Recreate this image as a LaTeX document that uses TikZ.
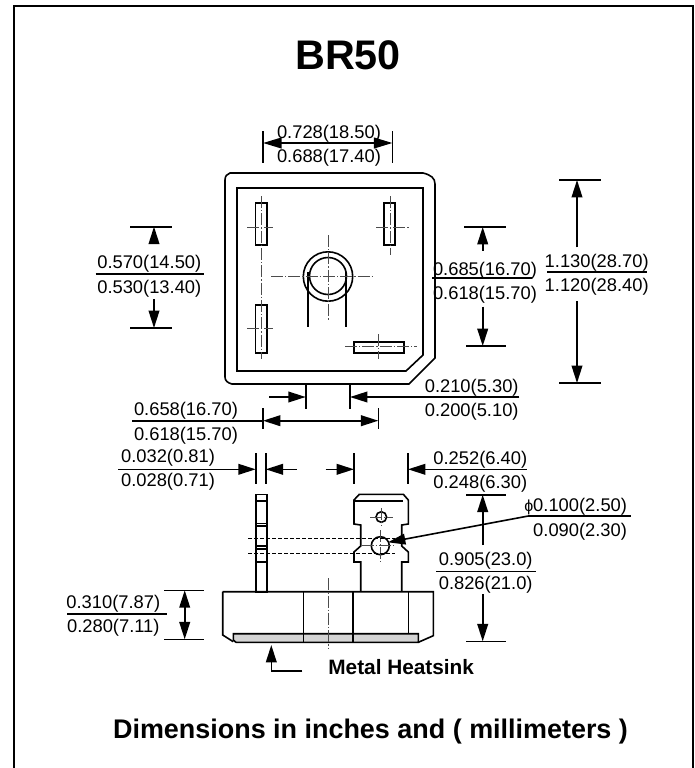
\documentclass[tikz,border=0pt]{standalone}
\usepackage{fontspec}
\setmainfont{Liberation Sans}
\usetikzlibrary{arrows.meta}
\tikzset{
  x=0.75pt,y=-0.75pt,
  lbl/.style={inner sep=0pt,outer sep=0pt,font=\fontsize{13.75}{16}\selectfont,anchor=center,yshift=-1.3pt},
  ttl/.style={inner sep=0pt,font=\bfseries\fontsize{31}{36}\selectfont},
  captxt/.style={inner sep=0pt,anchor=base,font=\bfseries\fontsize{20.2}{24}\selectfont},
  subtxt/.style={inner sep=0pt,anchor=base,font=\bfseries\fontsize{15.6}{18}\selectfont},
  ln/.style={line width=1.2pt,black},
  obj/.style={line width=1.2pt,black,line join=miter},
  lead/.style={ln,-{Triangle[length=13pt,width=8pt]}},
  leadb/.style={ln,{Triangle[length=13pt,width=8pt]}-{Triangle[length=13pt,width=8pt]}},
  ctr/.style={line width=0.5pt,black!70,dash pattern=on 9pt off 1.5pt on 1pt off 1.5pt},
  hid/.style={line width=0.6pt,black,dash pattern=on 3pt off 1.5pt},
}
\begin{document}
\begin{tikzpicture}
\useasboundingbox (0,0) rectangle (694,768);
% frame (open at the bottom)
\draw[line width=1.5pt] (14,768) -- (14,6) -- (693,6) -- (693,768);
\node[ttl] (title) at (348,55) {BR50};

% ---- top view ----
\draw[obj] (230,173) -- (423,173) .. controls (431,175) and (435,178) .. (435,184) -- (435,358) -- (409,384) -- (232,384) .. controls (228,383) and (225,381) .. (225,377) -- (225,180) .. controls (225,176) and (227,174) .. (230,173) -- cycle;
\draw[obj] (237,188) -- (423,188) -- (423,355) -- (406,371) -- (237,371) -- cycle;
\draw[obj] (255.5,203) rectangle (266.7,245);
\draw[obj] (255.5,305) rectangle (266.7,353);
\draw[obj] (383.7,203) rectangle (395,245);
\draw[obj] (353.7,342) rectangle (403.7,353);
\draw[obj] (328,276.5) circle (24.7);
\draw[obj] (328,276) circle (18.5);
\draw[obj] (308,272) -- (308,327);
\draw[obj] (345.7,272) -- (345.7,327);
% centre lines
\draw[ctr] (261.5,196) -- (261.5,359);
\draw[ctr] (247,227) -- (273,227);
\draw[ctr] (247,328) -- (273,328);
\draw[ctr] (390.5,196) -- (390.5,255);
\draw[ctr] (376,227) -- (409,227);
\draw[ctr] (378,334) -- (378,359);
\draw[ctr] (345,346) -- (417,346);
\draw[ctr] (271,276) -- (374,276);
\draw[ctr] (328,235) -- (328,321);

% dimension 0.728 / 0.688
\coordinate (a1) at (263,143); \coordinate (a2) at (392.5,143);
\draw[ln] (263,131) -- (263,163);
\draw[ln] (392.5,131) -- (392.5,163);
\draw[ln,line width=1.5pt,{Triangle[length=14pt,width=8pt]}-{Triangle[length=14pt,width=8pt]}] (a1) -- (a2);
\node[lbl] (d1a) at (329,132) {0.728(18.50)};
\node[lbl] (d1b) at (329,156) {0.688(17.40)};

% dimension 0.570 / 0.530
\coordinate (b1) at (154,226.7); \coordinate (b2) at (154,243); \coordinate (b3) at (154,299); \coordinate (b4) at (154,328);
\draw[ln] (130,226.7) -- (171.7,226.7);
\draw[ln] (130,328) -- (171.7,328);
\draw[lead] (b2) -- (b1);
\draw[lead] (b3) -- (b4);
\draw[ln] (95.7,274) -- (204,274);
\node[lbl] (d2a) at (149.3,262.3) {0.570(14.50)};
\node[lbl] (d2b) at (149.3,287) {0.530(13.40)};

% dimension 0.685 / 0.618
\coordinate (c1) at (482.7,227); \coordinate (c2) at (482.7,250.7); \coordinate (c3) at (482.7,306.7); \coordinate (c4) at (482.7,346);
\draw[ln] (464,227) -- (505.7,227);
\draw[ln] (466,346) -- (505.7,346);
\draw[lead] (c2) -- (c1);
\draw[lead] (c3) -- (c4);
\draw[ln] (432,277.7) -- (531.7,277.7);
\node[lbl] (d3a) at (485,268.7) {0.685(16.70)};
\node[lbl] (d3b) at (485,293) {0.618(15.70)};

% dimension 1.130 / 1.120
\coordinate (e1) at (577,180); \coordinate (e2) at (577,247.3); \coordinate (e3) at (577,301); \coordinate (e4) at (577,383);
\draw[ln] (559,180) -- (600.7,180);
\draw[ln] (559,383) -- (600.7,383);
\draw[lead] (e2) -- (e1);
\draw[lead] (e3) -- (e4);
\draw[ln] (547,272) -- (646.7,272);
\node[lbl] (d4a) at (596.7,261) {1.130(28.70)};
\node[lbl] (d4b) at (596.7,285) {1.120(28.40)};

% dimension 0.210 / 0.200
\coordinate (f1) at (269.3,397); \coordinate (f2) at (305.7,397); \coordinate (f3) at (350,397); \coordinate (f4) at (519.3,397);
\draw[ln] (305.7,384) -- (305.7,408.7);
\draw[ln] (350,384) -- (350,408.7);
\draw[lead] (f1) -- (f2);
\draw[lead] (f4) -- (f3);
\node[lbl] (d5a) at (471.7,386) {0.210(5.30)};
\node[lbl] (d5b) at (471.7,410) {0.200(5.10)};

% dimension 0.658 / 0.618
\coordinate (g0) at (132.3,420.7); \coordinate (g1) at (263,420.7); \coordinate (g2) at (378.3,420.7);
\draw[ln] (263,408) -- (263,428.5);
\draw[ln] (378.3,408) -- (378.3,428.5);
\draw[ln] (g0) -- (g1);
\draw[leadb] (g1) -- (g2);
\node[lbl] (d6a) at (186,409) {0.658(16.70)};
\node[lbl] (d6b) at (186,433.7) {0.618(15.70)};

% dimension 0.032 / 0.028
\coordinate (h0) at (118.3,469.3); \coordinate (h1) at (255.7,469.3); \coordinate (h2) at (265.7,469.3); \coordinate (h3) at (296.7,469.3);
\draw[ln] (255.7,453) -- (255.7,484);
\draw[ln] (265.7,453) -- (265.7,484);
\draw[lead] (h0) -- (h1);
\draw[lead] (h3) -- (h2);
\node[lbl] (d7a) at (168,456.3) {0.032(0.81)};
\node[lbl] (d7b) at (168,480.3) {0.028(0.71)};

% dimension 0.252 / 0.248
\coordinate (i1) at (325.7,469.3); \coordinate (i2) at (354,469.3); \coordinate (i3) at (408,469.3); \coordinate (i4) at (526.7,469.3);
\draw[ln] (354,453) -- (354,484);
\draw[ln] (408,453) -- (408,484);
\draw[lead] (i1) -- (i2);
\draw[lead] (i4) -- (i3);
\node[lbl] (d8a) at (480.3,457.7) {0.252(6.40)};
\node[lbl] (d8b) at (480.3,481.7) {0.248(6.30)};

% ---- side / front view ----
\draw[fill=black!17,line width=1.2pt] (233.3,633.7) -- (418.3,633.7) -- (418.3,642.3) -- (236,642.3) -- (233.3,640) -- cycle;
\draw[obj] (222.7,591.7) -- (433.3,591.7) -- (433.3,635.7) -- (418.3,642.3);
\draw[obj] (222.7,591.7) -- (222.7,635) -- (233.3,641.7);
\draw[obj] (303.3,591.7) -- (303.3,642);
\draw[obj] (352.7,591.7) -- (352.7,642);
\draw[obj] (408.3,591.7) -- (408.3,633.7);
\draw[ctr] (328.3,578.3) -- (328.3,649.3);
% left pin
\draw[obj] (255.7,494.3) rectangle (266.7,592);
\draw[ln] (255.7,500.7) -- (266.7,500.7);
\draw[ln] (255.7,523.3) -- (266.7,523.3);
\draw[ln] (255.7,526) -- (266.7,526);
\draw[ln] (255.7,546) -- (266.7,546);
\draw[ln] (255.7,549) -- (266.7,549);
\draw[ln] (255.7,561.7) -- (266.7,561.7);
% terminal
\draw[obj] (360.7,591.7) -- (360.7,562) -- (354,562) -- (354,552) -- (360.7,546) -- (360.7,525) -- (354,524) -- (354,500) -- (359.3,494.3) -- (403.3,494.3) -- (408.3,500) -- (408.3,524) -- (401.7,525) -- (401.7,546) -- (408.3,552) -- (408.3,562) -- (401.7,562) -- (401.7,591.7);
\draw[ln] (355,500.7) -- (403.3,500.7);
\draw[obj] (381.3,517) circle (5.3);
\draw[obj] (380.3,545.7) circle (9);
\draw[ctr] (370,517) -- (392.7,517);
\draw[ctr] (381.3,508) -- (381.3,526);
\draw[ctr] (361.7,545.7) -- (395,545.7);
\draw[ctr] (380.3,530) -- (380.3,561.7);
\draw[hid] (248.3,538.3) -- (395,538.3);
\draw[hid] (248.3,553.3) -- (395,553.3);

% phi leader
\coordinate (p1) at (630.7,516); \coordinate (p2) at (528.3,516); \coordinate (p3) at (388,542.3);
\draw[ln] (p1) -- (p2);
\draw[lead] (p2) -- (p3);
\node[lbl,anchor=east] (d9a) at (627,505) {{\fontsize{12}{12}\selectfont ϕ}0.100(2.50)};
\node[lbl,anchor=east] (d9b) at (627,530) {0.090(2.30)};

% dimension 0.905 / 0.826
\coordinate (j1) at (482.7,494.7); \coordinate (j2) at (482.7,545); \coordinate (j3) at (482.7,594); \coordinate (j4) at (482.7,641.3);
\draw[ln] (466,494.7) -- (505.7,494.7);
\draw[ln] (466,641.3) -- (505.7,641.3);
\draw[lead] (j2) -- (j1);
\draw[lead] (j3) -- (j4);
\draw[ln] (436,571.3) -- (535.7,571.3);
\node[lbl] (d10a) at (485.7,559.3) {0.905(23.0)};
\node[lbl] (d10b) at (485.7,583.3) {0.826(21.0)};

% dimension 0.310 / 0.280
\coordinate (k1) at (184.7,590.3); \coordinate (k2) at (184.7,639.3);
\draw[ln] (164,590.3) -- (204,590.3);
\draw[ln] (164,639.3) -- (204,639.3);
\draw[leadb] (k1) -- (k2);
\draw[ln] (67.3,613.7) -- (167.3,613.7);
\node[lbl] (d11a) at (113.3,601.7) {0.310(7.87)};
\node[lbl] (d11b) at (113.3,626.3) {0.280(7.11)};

% heatsink
\coordinate (m1) at (302.3,671); \coordinate (m2) at (271.3,671); \coordinate (m3) at (271.3,645);
\draw[lead] (m1) -- (m2) -- (m3);
\node[subtxt] (metal) at (401.2,674) {Metal Heatsink};
\node[captxt] (dims) at (370.5,738) {Dimensions in inches and ( millimeters )};
\end{tikzpicture}
\end{document}
